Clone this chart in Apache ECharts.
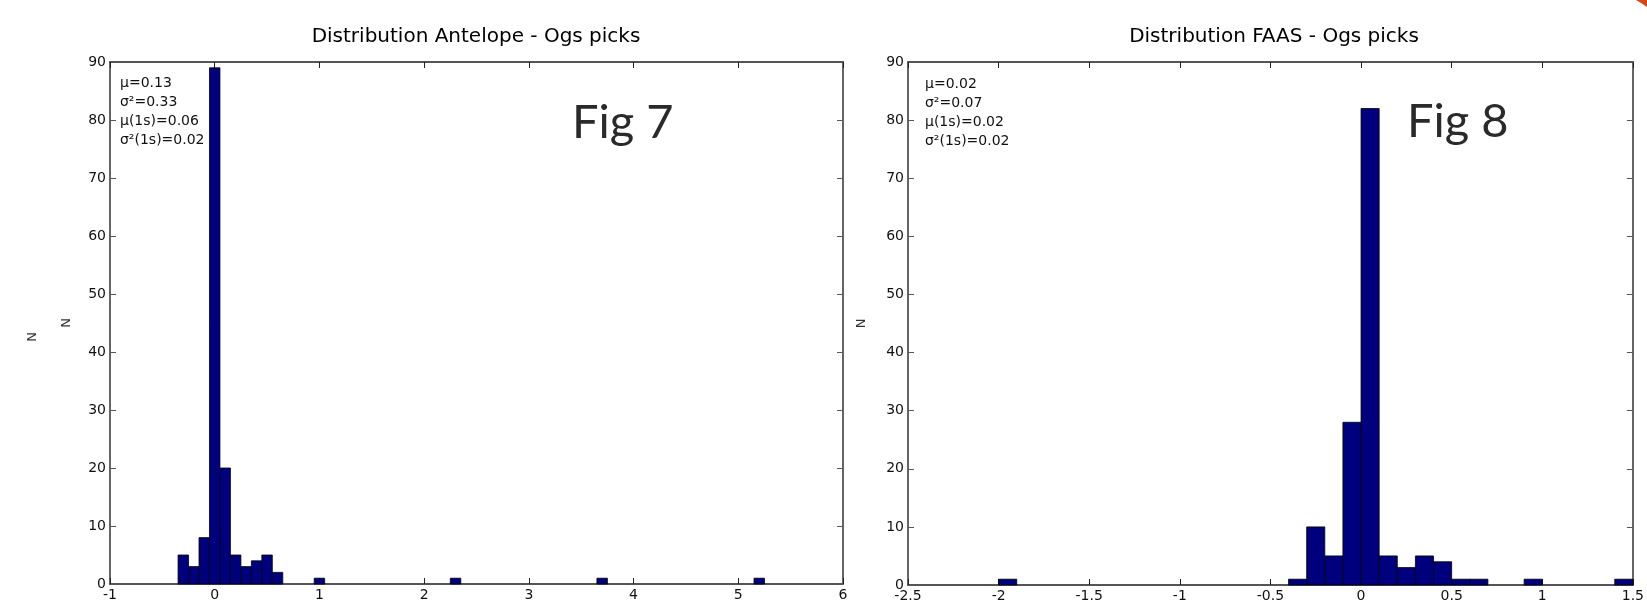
<!DOCTYPE html>
<html>
<head>
<meta charset="utf-8">
<script src="https://cdn.jsdelivr.net/npm/echarts@6/dist/echarts.min.js"></script>
<style>
html,body{margin:0;padding:0;background:#fff;}
#chart{width:1647px;height:604px;}
</style>
</head>
<body>
<div id="chart"></div>
<script>
// ---- data ----
const binWidth = 0.1;
// Fig 7 : Antelope - Ogs picks (bin centres and counts)
const antelopeCenters = [-0.3, -0.2, -0.1, 0.0, 0.1, 0.2, 0.3, 0.4, 0.5, 0.6, 1.0, 2.3, 3.7, 5.2];
const antelopeCounts  = [5, 3, 8, 89, 20, 5, 3, 4, 5, 2, 1, 1, 1, 1];
// Fig 8 : FAAS - Ogs picks
const faasCenters = [-1.95, -0.35, -0.25, -0.15, -0.05, 0.05, 0.15, 0.25, 0.35, 0.45, 0.55, 0.65, 0.95, 1.45];
const faasCounts  = [1, 1, 10, 5, 28, 82, 5, 3, 5, 4, 1, 1, 1, 1];

const titles = ['Distribution Antelope - Ogs picks', 'Distribution FAAS - Ogs picks'];
const statsAntelope = ['\u03bc=0.13', '\u03c3\u00b2=0.33', '\u03bc(1s)=0.06', '\u03c3\u00b2(1s)=0.02'];
const statsFaas = ['\u03bc=0.02', '\u03c3\u00b2=0.07', '\u03bc(1s)=0.02', '\u03c3\u00b2(1s)=0.02'];
const figLabels = ['Fig 7', 'Fig 8'];
const yLabelName = 'N';

const leftX = {min: -1, max: 6, interval: 1};
const rightX = {min: -2.5, max: 1.5, interval: 0.5};
const yRange = {min: 0, max: 90, interval: 10};

// ---- styling ----
const FONT = 'DejaVu Sans';
const AXIS_COLOR = '#555';
const TEXT_COLOR = '#111';
const BAR_FILL = '#00007f';

const chart = echarts.init(document.getElementById('chart'), null, {renderer: 'canvas'});

function pairs(cs, ns) { return cs.map((c, i) => [c, ns[i]]); }

function renderBin(params, api) {
  const c = api.value(0), n = api.value(1);
  const p0 = api.coord([c - binWidth / 2, 0]);
  const p1 = api.coord([c + binWidth / 2, n]);
  return {
    type: 'rect',
    shape: {x: p0[0], y: p1[1], width: p1[0] - p0[0], height: p0[1] - p1[1]},
    style: {fill: BAR_FILL, stroke: '#000', lineWidth: 0.8}
  };
}

function xAxes(gridIndex, r) {
  const base = {
    type: 'value', gridIndex, min: r.min, max: r.max, interval: r.interval,
    splitLine: {show: false},
    axisLine: {show: true, onZero: false, lineStyle: {color: AXIS_COLOR, width: 1.8}},
    axisTick: {show: true, inside: true, length: 6, lineStyle: {color: '#222', width: 1}}
  };
  return [
    Object.assign({}, base, {position: 'bottom',
      axisLabel: {show: true, margin: 4, color: TEXT_COLOR, fontFamily: FONT, fontSize: 14,
        showMinLabel: true, showMaxLabel: true}}),
    Object.assign({}, base, {position: 'top', axisLabel: {show: false}})
  ];
}

function yAxes(gridIndex, nameGap) {
  const base = {
    type: 'value', gridIndex, min: yRange.min, max: yRange.max, interval: yRange.interval,
    splitLine: {show: false},
    axisLine: {show: true, onZero: false, lineStyle: {color: AXIS_COLOR, width: 1.8}},
    axisTick: {show: true, inside: true, length: 6, lineStyle: {color: AXIS_COLOR, width: 1}}
  };
  return [
    Object.assign({}, base, {position: 'left',
      name: yLabelName, nameLocation: 'middle', nameGap: nameGap, nameRotate: 90,
      nameTextStyle: {color: '#333', fontFamily: FONT, fontSize: 13},
      axisLabel: {show: true, margin: 4, color: TEXT_COLOR, fontFamily: FONT, fontSize: 14}}),
    Object.assign({}, base, {position: 'right', axisLabel: {show: false}})
  ];
}

function statsText(lines, x, y) {
  return {
    type: 'text', x: x, y: y,
    style: {text: lines.join('\n'), fill: TEXT_COLOR, font: '14px "' + FONT + '"',
      lineHeight: 19, align: 'left', verticalAlign: 'top'}
  };
}

function figText(t, x, y) {
  return {
    type: 'text', x: x, y: y,
    style: {text: t, fill: '#2a2a2a', font: '400 47px "Lato", "Open Sans", sans-serif',
      align: 'left', verticalAlign: 'middle'}
  };
}

const option = {
  backgroundColor: '#fff',
  animation: false,
  title: [
    {text: titles[0], left: 476, top: 27, textAlign: 'center', padding: 0,
      textStyle: {fontFamily: FONT, fontSize: 20, fontWeight: 'normal', color: '#000'}},
    {text: titles[1], left: 1274, top: 27, textAlign: 'center', padding: 0,
      textStyle: {fontFamily: FONT, fontSize: 20, fontWeight: 'normal', color: '#000'}}
  ],
  grid: [
    {left: 110, right: 804, top: 62, bottom: 20, containLabel: false},
    {left: 908, right: 6, top: 62, bottom: 19, containLabel: false}
  ],
  xAxis: [].concat(xAxes(0, leftX), xAxes(1, rightX)),
  yAxis: [].concat(yAxes(0, 37), yAxes(1, 40)),
  series: [
    {type: 'custom', xAxisIndex: 0, yAxisIndex: 0, renderItem: renderBin,
      data: pairs(antelopeCenters, antelopeCounts), encode: {x: 0, y: 1}},
    {type: 'custom', xAxisIndex: 2, yAxisIndex: 2, renderItem: renderBin,
      data: pairs(faasCenters, faasCounts), encode: {x: 0, y: 1}}
  ],
  graphic: [
    statsText(statsAntelope, 120, 74),
    statsText(statsFaas, 925, 75),
    figText(figLabels[0], 572, 123),
    figText(figLabels[1], 1407, 122),
    {type: 'text', x: 33, y: 337, rotation: Math.PI / 2,
      style: {text: yLabelName, fill: '#333', font: '13px "' + FONT + '"', align: 'center', verticalAlign: 'middle'}},
    {type: 'polygon', shape: {points: [[1636, 0], [1647, 0], [1647, 7], [1641, 3]]},
      style: {fill: '#d2481a'}}
  ]
};
chart.setOption(option);
</script>
</body>
</html>
